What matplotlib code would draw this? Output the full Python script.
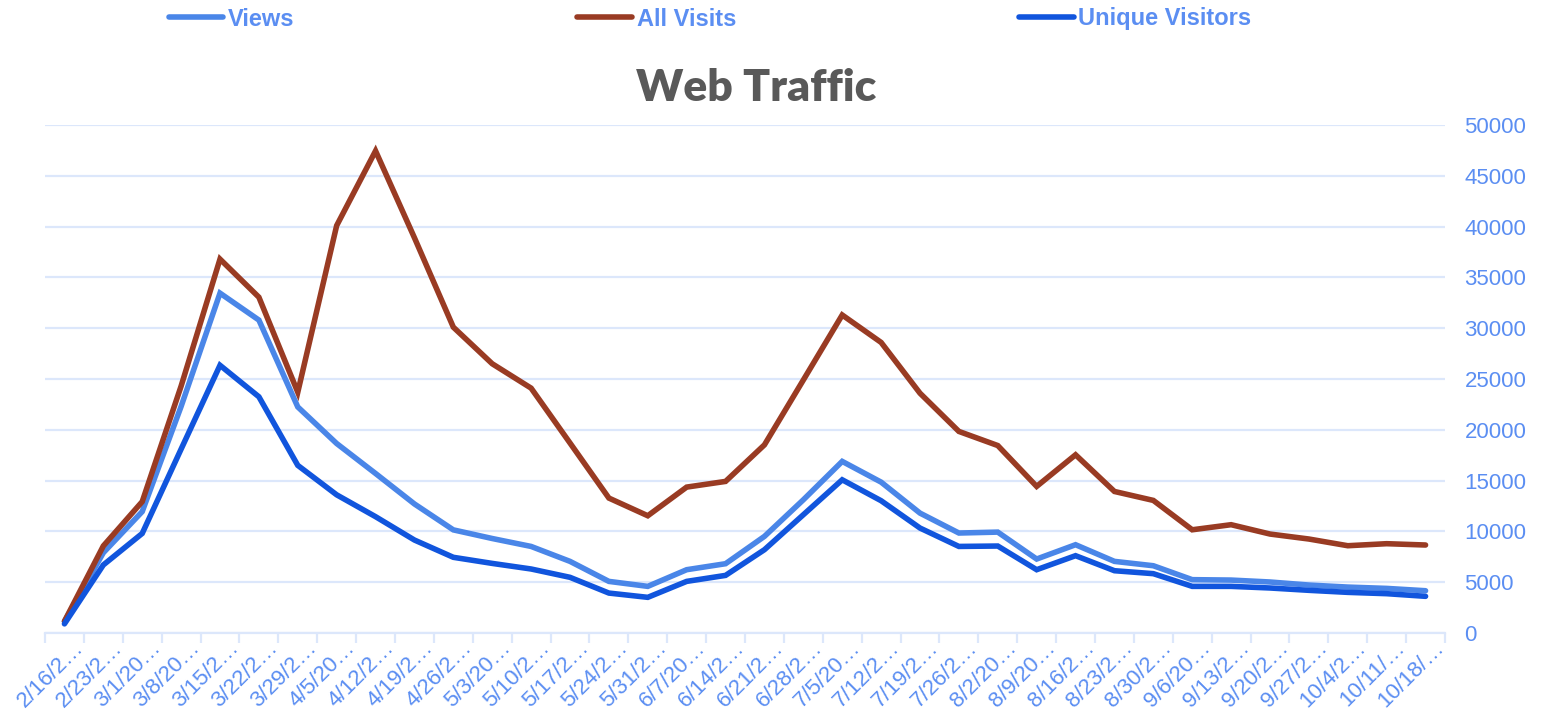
import numpy as np
import matplotlib
matplotlib.use("Agg")
import matplotlib.pyplot as plt

weeks = ["2/16/2…", "2/23/2…", "3/1/20…", "3/8/20…", "3/15/2…", "3/22/2…",
         "3/29/2…", "4/5/20…", "4/12/2…", "4/19/2…", "4/26/2…", "5/3/20…",
         "5/10/2…", "5/17/2…", "5/24/2…", "5/31/2…", "6/7/20…", "6/14/2…",
         "6/21/2…", "6/28/2…", "7/5/20…", "7/12/2…", "7/19/2…", "7/26/2…",
         "8/2/20…", "8/9/20…", "8/16/2…", "8/23/2…", "8/30/2…", "9/6/20…",
         "9/13/2…", "9/20/2…", "9/27/2…", "10/4/2…", "10/11/…", "10/18/…"]

views = [1150, 7900, 11950, 22300, 33450, 30800, 22250, 18650, 15700, 12700,
         10150, 9300, 8520, 7050, 5080, 4590, 6230, 6820, 9510, 13110,
         16890, 14850, 11800, 9840, 9930, 7280, 8690, 7050, 6620, 5250,
         5210, 5020, 4720, 4520, 4390, 4160]

all_visits = [1150, 8570, 12930, 24300, 36800, 33050, 23700, 40100, 47450, 38900,
              30100, 26500, 24100, 18700, 13280, 11540, 14360, 14920, 18520, 24900,
              31300, 28600, 23600, 19840, 18450, 14430, 17540, 13930, 13050, 10160,
              10660, 9740, 9250, 8590, 8790, 8660]

unique_visitors = [900, 6700, 9800, 18100, 26350, 23250, 16500, 13600, 11450, 9150,
                   7450, 6850, 6300, 5480, 3930, 3510, 5080, 5670, 8200, 11640,
                   15080, 13020, 10330, 8520, 8560, 6230, 7610, 6130, 5840, 4590,
                   4590, 4430, 4200, 4000, 3870, 3610]

label_col = "#5b8ef2"
grid_col = "#dce7fb"

plt.rcParams['font.family'] = ['Liberation Sans', 'DejaVu Sans']

fig = plt.figure(figsize=(15.5, 7.11), dpi=100)
ax = fig.add_axes([45 / 1550, 1 - 633 / 711, 1400 / 1550, 508 / 711])

x = np.arange(len(weeks))
ax.plot(x, views, color="#4a86e8", lw=4, solid_capstyle="round", solid_joinstyle="miter", label="Views", zorder=3)
ax.plot(x, all_visits, color="#993b23", lw=4, solid_capstyle="round", solid_joinstyle="miter", label="All Visits", zorder=3)
ax.plot(x, unique_visitors, color="#1155dd", lw=4, solid_capstyle="round", solid_joinstyle="miter", label="Unique Visitors", zorder=4)

ax.set_xlim(-0.5, len(weeks) - 0.5)
ax.set_ylim(0, 50000)
ax.set_yticks(np.arange(0, 50001, 5000))
ax.yaxis.tick_right()
ax.tick_params(axis="y", length=0, labelsize=16, labelcolor=label_col, pad=14)
ax.grid(axis="y", color=grid_col, lw=1.6, zorder=0)

# category boundaries carry the ticks, label sits at the right edge of its slot
ax.set_xticks(np.arange(-0.5, len(weeks)))
ax.set_xticklabels([""] + weeks, rotation=45, ha="right", va="baseline",
                   rotation_mode="anchor")
ax.tick_params(axis="x", length=7, width=1.6, color=grid_col, labelsize=16,
               labelcolor=label_col, pad=4)

for s in ["top", "left", "right"]:
    ax.spines[s].set_visible(False)
ax.spines["bottom"].set_color(grid_col)
ax.spines["bottom"].set_linewidth(1.6)

fig.text(756 / 1550, 1 - 88 / 711, "Web Traffic", ha="center", va="center",
         fontsize=32, fontweight="heavy", color="#595959",
         family=["Lato", "DejaVu Sans"])

leg = fig.legend(loc="center", bbox_to_anchor=(710 / 1550, 1 - 19 / 711), ncol=3,
                 frameon=False, handlelength=2.3, handletextpad=0.2,
                 columnspacing=12.0, prop={"size": 17, "weight": "bold"})
for t in leg.get_texts():
    t.set_color(label_col)

fig.savefig("out.png", dpi=100)
plt.close(fig)
